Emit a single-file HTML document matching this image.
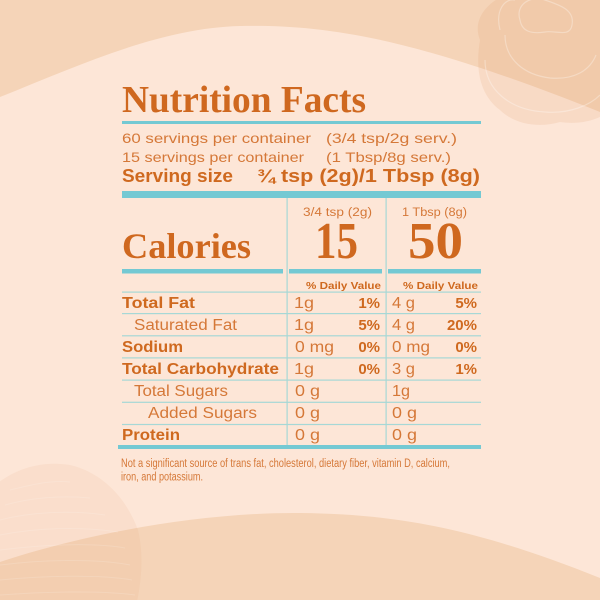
<!DOCTYPE html>
<html><head><meta charset="utf-8"><style>
html,body{margin:0;padding:0;background:#FDE6D7;}
svg{display:block;}
text{font-family:"Liberation Sans",sans-serif;}
.serif{font-family:"Liberation Serif",serif;font-weight:bold;fill:#CF681F;}
.reg{fill:#D57838;}
.bold{font-weight:bold;fill:#CF691F;}
</style></head><body>
<svg width="600" height="600" viewBox="0 0 600 600" xmlns="http://www.w3.org/2000/svg">
<rect width="600" height="600" fill="#FDE6D7"/>
<path d="M0,97 C80,65 160,28 240,26 C330,24 420,40 600,112 V0 H0 Z" fill="#F5D4B8"/>
<path d="M0,562 C80,535 200,512 300,513 C400,514 480,530 600,578 V600 H0 Z" fill="#F5D4B8"/>
<!-- top-right rose blob -->
<path d="M480,40 C470,15 495,-5 520,-10 L610,-10 L610,110 C600,120 580,125 560,122 C540,128 515,125 500,110 C480,95 475,70 480,40 Z" fill="#D7824A" fill-opacity="0.12"/>
<g fill="none" stroke="#FFFFFF" stroke-opacity="0.3" stroke-width="1.2">
<path d="M520,20 C515,5 530,-5 545,0 C560,5 575,10 572,25 C570,38 555,30 545,32 C532,34 522,32 520,20 Z"/>
<path d="M500,30 C495,10 505,-2 515,0 M505,35 C505,60 525,75 550,78 C575,80 590,70 596,55"/>
<path d="M485,60 C485,90 510,110 545,112 C570,114 590,105 600,95"/>
</g>
<!-- bottom-left textured blob -->
<path d="M-10,490 C10,470 40,460 70,465 C100,472 125,495 138,530 C145,560 140,590 135,610 L-10,610 Z" fill="#E29A68" fill-opacity="0.1"/>
<g stroke="#FFFFFF" stroke-opacity="0.15" stroke-width="1" fill="none">
<path d="M10,490 C30,485 50,480 70,482 M5,505 C30,498 60,495 90,498 M0,520 C30,512 70,510 105,515 M0,535 C35,528 80,526 118,532 M0,550 C40,545 90,542 125,548 M0,565 C40,560 95,558 130,565 M0,580 C40,576 100,574 132,580 M0,595 C40,592 100,590 135,595"/>
</g>

<!-- Title -->
<text class="serif" x="122" y="112" font-size="38" textLength="244" lengthAdjust="spacingAndGlyphs">Nutrition Facts</text>
<rect x="122" y="121" width="359" height="3" fill="#74C9D3"/>

<text class="reg" x="122" y="143" font-size="14" textLength="189" lengthAdjust="spacingAndGlyphs">60 servings per container</text>
<text class="reg" x="326" y="143" font-size="14" textLength="131" lengthAdjust="spacingAndGlyphs">(3/4 tsp/2g serv.)</text>
<text class="reg" x="122" y="162" font-size="14" textLength="182" lengthAdjust="spacingAndGlyphs">15 servings per container</text>
<text class="reg" x="326" y="162" font-size="14" textLength="125" lengthAdjust="spacingAndGlyphs">(1 Tbsp/8g serv.)</text>
<text class="bold" x="122" y="182" font-size="18" textLength="111" lengthAdjust="spacingAndGlyphs">Serving size</text>
<text class="bold" x="257" y="182" font-size="18" textLength="223" lengthAdjust="spacingAndGlyphs">¾ tsp (2g)/1 Tbsp (8g)</text>
<rect x="122" y="191" width="359" height="7" fill="#74C9D3"/>

<!-- vertical lines -->
<rect x="286.5" y="198" width="1.2" height="248" fill="#A6D8D6"/>
<rect x="385.5" y="198" width="1.2" height="248" fill="#A6D8D6"/>

<text class="reg" x="303" y="216" font-size="11.5" textLength="69" lengthAdjust="spacingAndGlyphs">3/4 tsp (2g)</text>
<text class="reg" x="402" y="216" font-size="11.5" textLength="65" lengthAdjust="spacingAndGlyphs">1 Tbsp (8g)</text>

<text class="serif" x="122" y="258" font-size="36" textLength="129" lengthAdjust="spacingAndGlyphs">Calories</text>
<text class="serif" x="315" y="258" font-size="52" textLength="43" lengthAdjust="spacingAndGlyphs">15</text>
<text class="serif" x="408" y="258" font-size="52" textLength="55" lengthAdjust="spacingAndGlyphs">50</text>

<rect x="122" y="269" width="161" height="4.5" fill="#74C9D3"/>
<rect x="289" y="269" width="93" height="4.5" fill="#74C9D3"/>
<rect x="388" y="269" width="93" height="4.5" fill="#74C9D3"/>

<text class="bold" x="306" y="289" font-size="10.5" textLength="75" lengthAdjust="spacingAndGlyphs">% Daily Value</text>
<text class="bold" x="403" y="289" font-size="10.5" textLength="75" lengthAdjust="spacingAndGlyphs">% Daily Value</text>

<!-- row lines -->
<g fill="#A6D8D6">
<rect x="122" y="291.5" width="359" height="1.2"/>
<rect x="122" y="313" width="359" height="1.2"/>
<rect x="122" y="335.2" width="359" height="1.2"/>
<rect x="122" y="357.3" width="359" height="1.2"/>
<rect x="122" y="379.5" width="359" height="1.2"/>
<rect x="122" y="401.7" width="359" height="1.2"/>
<rect x="122" y="423.9" width="359" height="1.2"/>
</g>
<rect x="118" y="445" width="363" height="4" fill="#74C9D3"/>

<!-- rows -->
<g font-size="15.5">
<text class="bold" x="122" y="308" textLength="73" lengthAdjust="spacingAndGlyphs">Total Fat</text>
<text class="reg" x="134" y="330" textLength="103" lengthAdjust="spacingAndGlyphs">Saturated Fat</text>
<text class="bold" x="122" y="352" textLength="61" lengthAdjust="spacingAndGlyphs">Sodium</text>
<text class="bold" x="122" y="374" textLength="157" lengthAdjust="spacingAndGlyphs">Total Carbohydrate</text>
<text class="reg" x="134" y="396" textLength="94" lengthAdjust="spacingAndGlyphs">Total Sugars</text>
<text class="reg" x="148" y="418" textLength="109" lengthAdjust="spacingAndGlyphs">Added Sugars</text>
<text class="bold" x="122" y="440" textLength="58" lengthAdjust="spacingAndGlyphs">Protein</text>
</g>
<g font-size="16">
<text class="reg" x="294" y="308" textLength="20" lengthAdjust="spacingAndGlyphs">1g</text>
<text class="reg" x="294" y="330" textLength="20" lengthAdjust="spacingAndGlyphs">1g</text>
<text class="reg" x="295" y="352" textLength="39" lengthAdjust="spacingAndGlyphs">0 mg</text>
<text class="reg" x="294" y="374" textLength="20" lengthAdjust="spacingAndGlyphs">1g</text>
<text class="reg" x="295" y="396" textLength="25" lengthAdjust="spacingAndGlyphs">0 g</text>
<text class="reg" x="295" y="418" textLength="25" lengthAdjust="spacingAndGlyphs">0 g</text>
<text class="reg" x="295" y="440" textLength="25" lengthAdjust="spacingAndGlyphs">0 g</text>

<text class="reg" x="392" y="308" textLength="23" lengthAdjust="spacingAndGlyphs">4 g</text>
<text class="reg" x="392" y="330" textLength="23" lengthAdjust="spacingAndGlyphs">4 g</text>
<text class="reg" x="392" y="352" textLength="38" lengthAdjust="spacingAndGlyphs">0 mg</text>
<text class="reg" x="392" y="374" textLength="23" lengthAdjust="spacingAndGlyphs">3 g</text>
<text class="reg" x="392" y="396" textLength="18" lengthAdjust="spacingAndGlyphs">1g</text>
<text class="reg" x="392" y="418" textLength="25" lengthAdjust="spacingAndGlyphs">0 g</text>
<text class="reg" x="392" y="440" textLength="25" lengthAdjust="spacingAndGlyphs">0 g</text>
</g>
<g font-size="15" text-anchor="end">
<text class="bold" x="380" y="308">1%</text>
<text class="bold" x="380" y="330">5%</text>
<text class="bold" x="380" y="352">0%</text>
<text class="bold" x="380" y="374">0%</text>
<text class="bold" x="477" y="308">5%</text>
<text class="bold" x="477" y="330">20%</text>
<text class="bold" x="477" y="352">0%</text>
<text class="bold" x="477" y="374">1%</text>
</g>

<text class="reg" x="121" y="467" font-size="11.5" textLength="329" lengthAdjust="spacingAndGlyphs">Not a significant source of trans fat, cholesterol, dietary fiber, vitamin D, calcium,</text>
<text class="reg" x="121" y="480.5" font-size="11.5" textLength="82" lengthAdjust="spacingAndGlyphs">iron, and potassium.</text>
</svg>
</body></html>
